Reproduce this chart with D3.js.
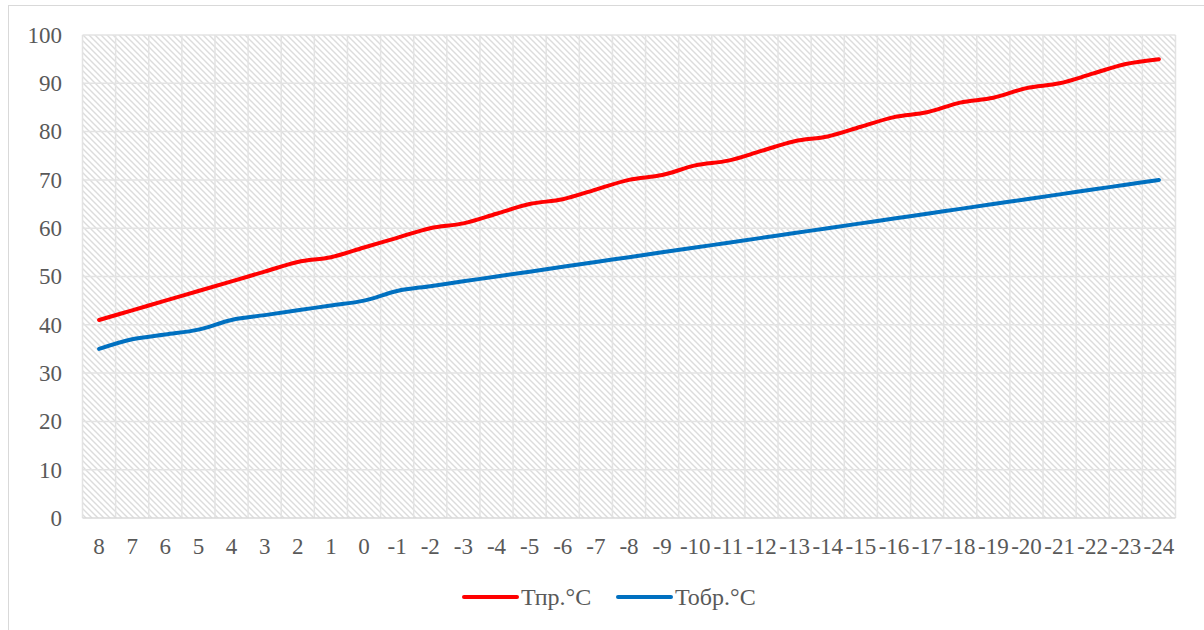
<!DOCTYPE html>
<html>
<head>
<meta charset="utf-8">
<script src="https://cdn.jsdelivr.net/npm/d3@7"></script>
<style>
  html, body { margin: 0; padding: 0; background: #fff; }
  svg { display: block; }
</style>
</head>
<body>
<svg id="chart" width="1204" height="630"></svg>
<script>
// Outdoor temperature, °C (category axis)
const categories = ["8","7","6","5","4","3","2","1","0","-1","-2","-3","-4","-5","-6","-7","-8","-9","-10","-11","-12","-13","-14","-15","-16","-17","-18","-19","-20","-21","-22","-23","-24"];
// Supply water temperature
const supplyTemp = [41,43,45,47,49,51,53,54,56,58,60,61,63,65,66,68,70,71,73,74,76,78,79,81,83,84,86,87,89,90,92,94,95];
// Return water temperature
const returnTemp = [35,37,38,39,41,42,43,44,45,47,48,49,50,51,52,53,54,55,56,57,58,59,60,61,62,63,64,65,66,67,68,69,70];
const yTicks = [0,10,20,30,40,50,60,70,80,90,100];
const seriesNames = ["Тпр.°С", "Тобр.°С"];
const seriesColors = ["#FF0000", "#0070C0"];

const FONT = "Liberation Serif";
const svg = d3.select("#chart");
const plot = { left: 82.5, right: 1175.5, top: 35, bottom: 518 };

// chart frame
svg.append("rect").attr("x", 8.5).attr("y", 5.5).attr("width", 1200).attr("height", 640)
  .attr("fill", "#fff").attr("stroke", "#d9d9d9").attr("stroke-width", 1);

// diagonal hatch fill for the plot area
const defs = svg.append("defs");
const pat = defs.append("pattern").attr("id", "hatch").attr("patternUnits", "userSpaceOnUse")
  .attr("width", 6).attr("height", 6);
pat.append("rect").attr("width", 6).attr("height", 6).attr("fill", "#fff");
pat.append("path").attr("d", "M-1,-1 L7,7 M-1,5 L1,7 M5,-1 L7,1")
  .attr("stroke", "#dcdcdc").attr("stroke-width", 1.4);

const x = d3.scaleBand().domain(categories).range([plot.left, plot.right]).paddingInner(0).paddingOuter(0);
const y = d3.scaleLinear().domain([0, 100]).range([plot.bottom, plot.top]);

svg.append("rect").attr("x", plot.left).attr("y", plot.top)
  .attr("width", plot.right - plot.left).attr("height", plot.bottom - plot.top)
  .attr("fill", "url(#hatch)");

// vertical gridlines at category boundaries
const bounds = categories.map(c => x(c)).concat([plot.right]);
svg.append("g").selectAll("line").data(bounds).join("line")
  .attr("x1", d => d).attr("x2", d => d).attr("y1", plot.top).attr("y2", plot.bottom)
  .attr("stroke", "#e3e3e3").attr("stroke-width", 1.5);

// horizontal gridlines
svg.append("g").selectAll("line").data(yTicks).join("line")
  .attr("x1", plot.left).attr("x2", plot.right).attr("y1", d => y(d)).attr("y2", d => y(d))
  .attr("stroke", d => d === 0 ? "#d9d9d9" : "#e3e3e3").attr("stroke-width", 1.5);

// y axis labels
const yAxis = d3.axisLeft(y).tickValues(yTicks).tickSize(0).tickPadding(20.5);
const gy = svg.append("g").attr("transform", `translate(${plot.left},0)`).call(yAxis);
gy.select(".domain").remove();
gy.attr("font-family", null).attr("font-size", null);
gy.selectAll("text").attr("fill", "#595959")
  .style("font-family", FONT).style("font-size", "23px");

// x axis labels
const xAxis = d3.axisBottom(x).tickSize(0).tickPadding(20);
const gx = svg.append("g").attr("transform", `translate(0,${plot.bottom})`).call(xAxis);
gx.select(".domain").remove();
gx.attr("font-family", null).attr("font-size", null);
gx.selectAll("text").attr("fill", "#595959")
  .style("font-family", FONT).style("font-size", "23px");

// series lines (smoothed)
const line = d3.line()
  .x((d, i) => x(categories[i]) + x.bandwidth() / 2)
  .y(d => y(d))
  .curve(d3.curveCatmullRom.alpha(0.5));

[supplyTemp, returnTemp].forEach((vals, k) => {
  svg.append("path").datum(vals).attr("d", line)
    .attr("fill", "none").attr("stroke", seriesColors[k]).attr("stroke-width", 4)
    .attr("stroke-linecap", "round").attr("stroke-linejoin", "round");
});

// legend
const legendItems = [{ x: 464 }, { x: 618 }];
legendItems.forEach((it, k) => {
  const g = svg.append("g").attr("transform", `translate(${it.x},597)`);
  g.append("line").attr("x1", 0).attr("x2", 53).attr("y1", 0).attr("y2", 0)
    .attr("stroke", seriesColors[k]).attr("stroke-width", 4).attr("stroke-linecap", "round");
  g.append("text").attr("x", 57).attr("y", 8).attr("fill", "#595959")
    .style("font-family", FONT).style("font-size", "24px")
    .text(seriesNames[k]);
});
</script>
</body>
</html>
